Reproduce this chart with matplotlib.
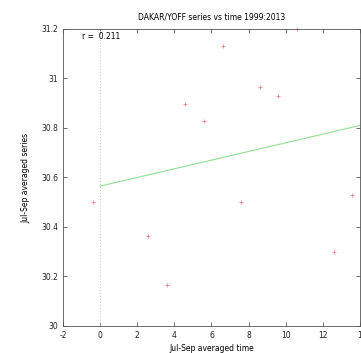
import matplotlib
matplotlib.use('Agg')
import matplotlib.pyplot as plt

# Datos
tiempo = [-0.4, 2.6, 3.6, 4.6, 5.6, 6.6, 7.6, 8.6, 9.6, 10.6, 12.6, 13.6]
serie = [30.50, 30.365, 30.165, 30.895, 30.83, 31.13, 30.50, 30.965, 30.93, 31.20, 30.30, 30.53]
ajuste_x = [0, 14]
ajuste_y = [30.565, 30.81]
r_valor = 0.211

fig = plt.figure(figsize=(3.61, 3.53), dpi=100)
ax = fig.add_axes([0.1745, 0.0765, 0.8225, 0.8415])

ax.axvline(0, color='#cccccc', linestyle=':', linewidth=0.8)
ax.plot(tiempo, serie, '+', color='#ff8080', markersize=2.5, markeredgewidth=0.6, clip_on=False)
ax.plot(ajuste_x, ajuste_y, color='#90e090', linewidth=0.8)

ax.set_xlim(-2, 14)
ax.set_ylim(30, 31.2)
ax.set_xticks(range(-2, 15, 2))
ax.set_xticklabels(['-2', '0', '2', '4', '6', '8', '10', '12', '1'])
ax.set_yticks([30, 30.2, 30.4, 30.6, 30.8, 31, 31.2])
ax.set_yticklabels(['30', '30.2', '30.4', '30.6', '30.8', '31', '31.2'])
ax.tick_params(direction='in', top=True, right=True, labelsize=5.5, length=3, width=0.5,
               colors='#333333', labelcolor='#222222')
for s in ax.spines.values():
    s.set_linewidth(0.6)
    s.set_color('#555555')

ax.set_xlabel('Jul-Sep averaged time', fontsize=5.5, labelpad=3)
ax.set_ylabel('Jul-Sep averaged series', fontsize=5.5, labelpad=8)
ax.set_title('DAKAR/YOFF series vs time 1999:2013', fontsize=5.5, pad=7)
ax.text(-1.0, 31.17, 'r =  %.3f' % r_valor, fontsize=5.5, va='center')

plt.savefig('out.png', dpi=100)
